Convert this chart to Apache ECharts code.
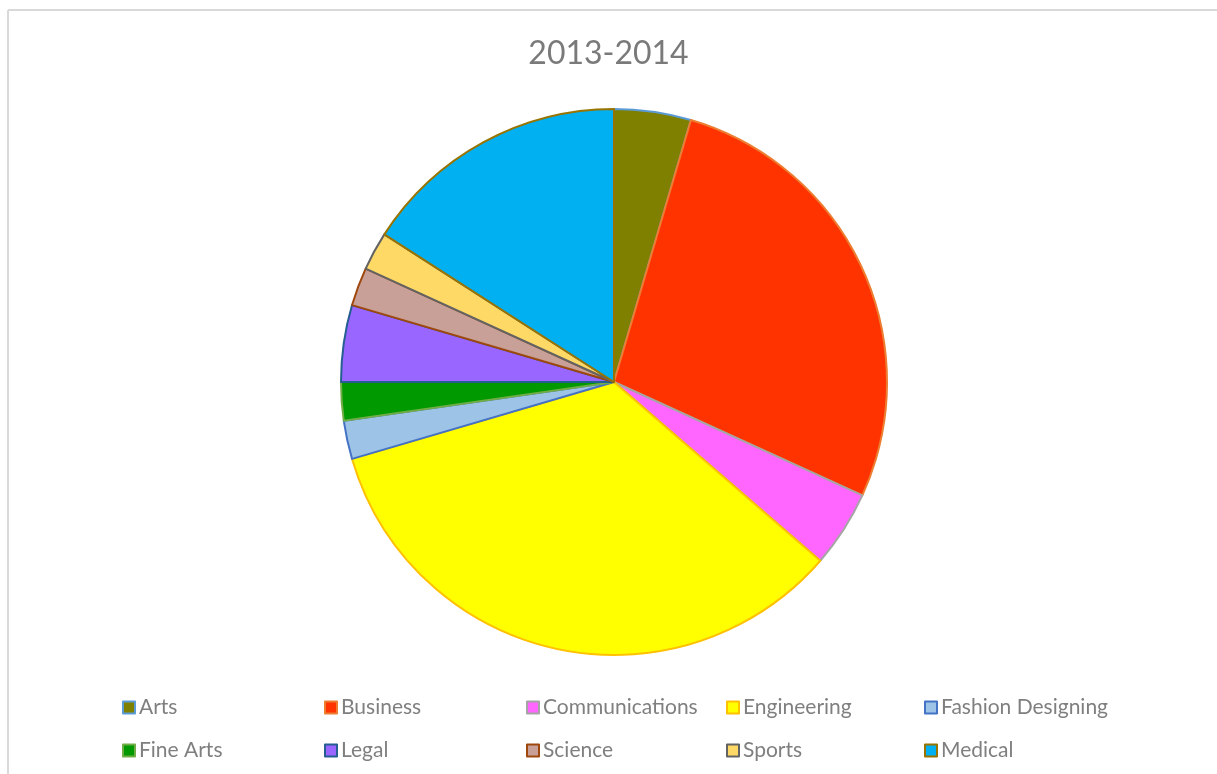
<!DOCTYPE html>
<html><head><meta charset="utf-8">
<script src="https://cdn.jsdelivr.net/npm/echarts@6/dist/echarts.min.js"></script>
<style>html,body{margin:0;padding:0;background:#fff}#c{width:1217px;height:774px}</style>
</head><body><div id="c"></div>
<script>
const categories = ['Arts','Business','Communications','Engineering','Fashion Designing','Fine Arts','Legal','Science','Sports','Medical'];
const values = [2,12,2,15,1,1,2,1,1,7];
const fills = ['#808000','#FF3300','#FF66FF','#FFFF00','#9DC3E6','#009900','#9966FF','#C9A097','#FFD966','#00B0F0'];
const borders = ['#5B9BD5','#ED7D31','#A5A5A5','#FFC000','#4472C4','#70AD47','#255E91','#9E480E','#636363','#997300'];
const legendCols = [117,319,521,721,919];
const legendRows = [692,735];
const font = 'Lato, "Open Sans", sans-serif';

const legends = categories.map((name,i)=>({
  data:[name], left: legendCols[i%5], top: legendRows[Math.floor(i/5)],
  icon:'rect', itemWidth:12, itemHeight:12, itemGap:0,
  textStyle:{color:'#7f7f7f', fontSize:21, fontFamily:font, padding:[0,0,0,-1]},
  selectedMode:false
}));

const chart = echarts.init(document.getElementById('c'), null, {renderer:'canvas'});
chart.setOption({
  animation:false,
  backgroundColor:'#fff',
  title:{text:'2013-2014', left:'center', top:33, textStyle:{color:'#7a7a7a', fontSize:32, fontWeight:'normal', fontFamily:font}},
  legend: legends,
  graphic:[
    {type:'line', shape:{x1:8, y1:10, x2:1217, y2:10}, style:{stroke:'#d9d9d9', lineWidth:2}},
    {type:'line', shape:{x1:8, y1:10, x2:8, y2:774}, style:{stroke:'#d9d9d9', lineWidth:2}}
  ],
  series:[{
    type:'pie', center:[614,382], radius:[0,273], startAngle:90, clockwise:true,
    label:{show:false}, labelLine:{show:false}, emphasis:{disabled:true},
    data: categories.map((n,i)=>({name:n, value:values[i], itemStyle:{color:fills[i], borderColor:borders[i], borderWidth:2}}))
  }]
});
</script></body></html>
